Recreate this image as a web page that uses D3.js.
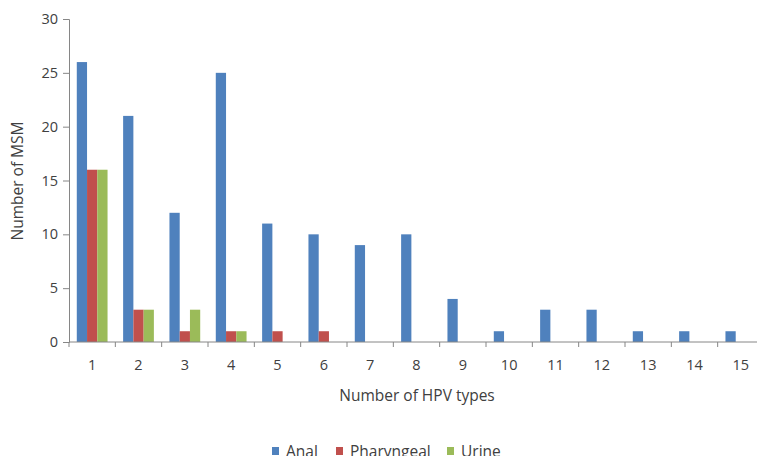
<!DOCTYPE html>
<html>
<head>
<meta charset="utf-8">
<script src="https://cdn.jsdelivr.net/npm/d3@7"></script>
<style>
  body { margin: 0; background: #fff; }
  text { font-family: "Open Sans", "Liberation Sans", sans-serif; fill: #404040; }
</style>
</head>
<body>
<svg></svg>
<script>
let categories = ["1","2","3","4","5","6","7","8","9","10","11","12","13","14","15"]
let seriesNames = ["Anal", "Pharyngeal", "Urine"]
let anal = [26, 21, 12, 25, 11, 10, 9, 10, 4, 1, 3, 3, 1, 1, 1]
let pharyngeal = [16, 3, 1, 1, 1, 1, 0, 0, 0, 0, 0, 0, 0, 0, 0]
let urine = [16, 3, 3, 1, 0, 0, 0, 0, 0, 0, 0, 0, 0, 0, 0]
let yTicks = [0, 5, 10, 15, 20, 25, 30]
let colors = ["#4f81bd", "#c0504d", "#9bbb59"]

let width = 757
let height = 456
let plotLeft = 69, plotRight = 764, plotTop = 19, plotBottom = 342

let svg = d3.select("svg").attr("width", width).attr("height", height)

let xScale = d3.scaleBand().domain(categories).range([plotLeft, plotRight])
let inner = d3.scaleBand().domain(seriesNames).range([0, xScale.bandwidth()]).paddingInner(0).paddingOuter(0.76)
let yScale = d3.scaleLinear().domain([0, 30]).range([plotBottom, plotTop])

let rows = categories.map((c, i) => ({cat: c, vals: [anal[i], pharyngeal[i], urine[i]]}))

// bars
let groups = svg.selectAll("g.grp")
  .data(rows)
  .enter()
  .append("g")
  .attr("class", "grp")
  .attr("transform", d => "translate(" + xScale(d.cat) + ",0)")

groups.selectAll("rect")
  .data(d => d.vals.map((v, k) => ({name: seriesNames[k], v: v, k: k})).filter(d => d.v > 0))
  .enter()
  .append("rect")
  .attr("x", d => inner(d.name))
  .attr("width", inner.bandwidth())
  .attr("y", d => yScale(d.v))
  .attr("height", d => plotBottom - yScale(d.v))
  .attr("fill", d => colors[d.k])

// y axis
let yAxis = d3.axisLeft(yScale).tickValues(yTicks).tickSize(6).tickPadding(5)
let gy = svg.append("g").attr("transform", "translate(" + plotLeft + ",0)").call(yAxis)
gy.select(".domain").attr("stroke", "#868686")
gy.selectAll(".tick line").attr("stroke", "#868686")
gy.selectAll(".tick text").style("font-size", "14.5px").attr("fill", "#404040")

// x axis
let xAxis = d3.axisBottom(xScale).tickSize(0).tickPadding(18)
let gx = svg.append("g").attr("transform", "translate(0," + plotBottom + ")").call(xAxis)
gx.select(".domain").attr("stroke", "#868686").attr("d", "M" + plotLeft + ",0H" + plotRight)
gx.selectAll(".tick text").style("font-size", "14.5px").attr("fill", "#404040")
// tick marks between categories
gx.selectAll("line.sep")
  .data(categories.concat(["end"]))
  .enter()
  .append("line")
  .attr("class", "sep")
  .attr("x1", (d, i) => plotLeft + i * xScale.step())
  .attr("x2", (d, i) => plotLeft + i * xScale.step())
  .attr("y1", 0).attr("y2", 5)
  .attr("stroke", "#868686")

// axis titles
svg.append("text")
  .attr("x", 417)
  .attr("y", 401)
  .attr("text-anchor", "middle")
  .style("font-size", "15.5px")
  .text("Number of HPV types")

svg.append("text")
  .attr("transform", "translate(23,181) rotate(-90)")
  .attr("text-anchor", "middle")
  .style("font-size", "15.5px")
  .text("Number of MSM")

// legend
let legendX = [272, 336, 447]
let lg = svg.selectAll("g.leg")
  .data(seriesNames)
  .enter()
  .append("g")
  .attr("class", "leg")
  .attr("transform", (d, i) => "translate(" + legendX[i] + ",447)")
lg.append("rect").attr("width", 7).attr("height", 8).attr("fill", (d, i) => colors[i])
lg.append("text").attr("x", 14).attr("y", 10).style("font-size", "15.5px").text(d => d)
</script>
</body>
</html>
